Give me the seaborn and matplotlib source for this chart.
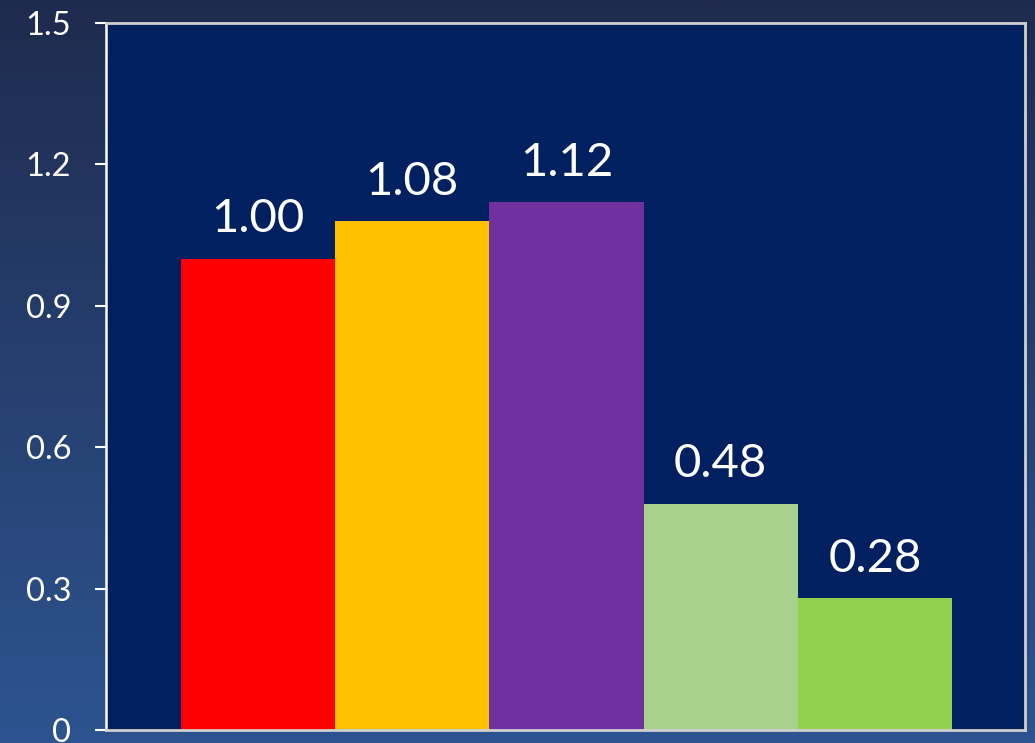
import numpy as np
import pandas as pd
import matplotlib
matplotlib.use("Agg")
import matplotlib.pyplot as plt
from matplotlib.colors import LinearSegmentedColormap
import seaborn as sns

# ---- data ----
categories = ["A", "B", "C", "D", "E"]
values = [1.00, 1.08, 1.12, 0.48, 0.28]
value_labels = ["1.00", "1.08", "1.12", "0.48", "0.28"]
bar_colors = ["#FF0000", "#FFC000", "#7030A0", "#A9D18E", "#92D050"]
y_ticks = [0, 0.3, 0.6, 0.9, 1.2, 1.5]
y_tick_labels = ["0", "0.3", "0.6", "0.9", "1.2", "1.5"]

df = pd.DataFrame({"cat": categories, "val": values})

sns.set_theme(style="white")
plt.rcParams["font.family"] = ["Lato", "DejaVu Sans"]

fig = plt.figure(figsize=(10.35, 7.43), dpi=100)

# gradient background
bg = fig.add_axes([0, 0, 1, 1], zorder=-10)
grad = np.linspace(0, 1, 256).reshape(-1, 1)
cmap = LinearSegmentedColormap.from_list("bg", ["#1f2b4e", "#2d5490"])
bg.imshow(grad, aspect="auto", cmap=cmap, extent=[0, 1, 0, 1], origin="upper")
bg.axis("off")

ax = fig.add_axes([0.1024, 0.0175, 0.8879, 0.9515], zorder=1)
ax.set_facecolor("#002060")

sns.barplot(data=df, x="cat", y="val", hue="cat", palette=bar_colors,
            width=1.0, saturation=1, legend=False, ax=ax, edgecolor="none",
            linewidth=0)

ax.set_xlim(-0.986, 4.973)
ax.set_ylim(0, 1.5)
ax.set_yticks(y_ticks)
ax.set_yticklabels(y_tick_labels, color="white", fontsize=23.5)
ax.set_xticks([])
ax.set_xlabel("")
ax.set_ylabel("")
ax.tick_params(axis="y", direction="out", length=8, width=1.5, color="white",
               pad=17, left=True)

for side in ["top", "right", "bottom"]:
    ax.spines[side].set_color("#d0d0d0")
    ax.spines[side].set_linewidth(2)
ax.spines["left"].set_color("white")
ax.spines["left"].set_linewidth(1.8)

for i, (v, lab) in enumerate(zip(values, value_labels)):
    ax.annotate(lab, xy=(i, v), xytext=(0, 19), textcoords="offset points",
                ha="center", va="baseline", color="white", fontsize=34)

fig.savefig("out.png", dpi=100)
